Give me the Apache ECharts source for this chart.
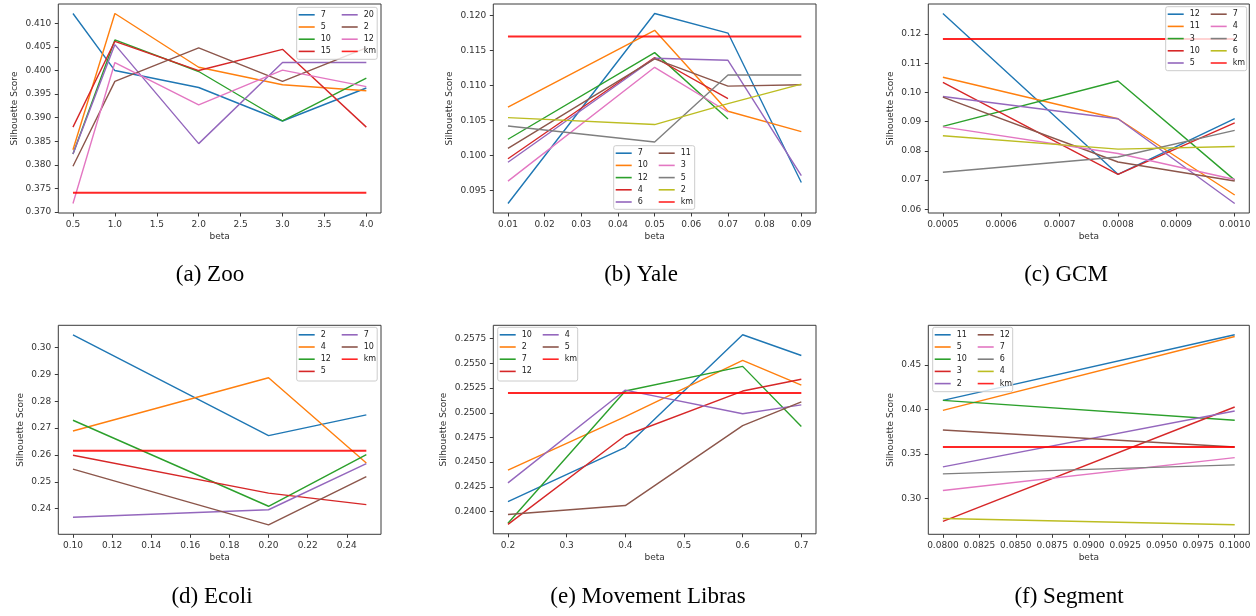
<!DOCTYPE html>
<html>
<head>
<meta charset="utf-8">
<script src="https://cdn.jsdelivr.net/npm/echarts@6/dist/echarts.min.js"></script>
<style>html,body{margin:0;padding:0;background:#fff;}#c{width:1256px;height:616px;}</style>
</head>
<body>
<div id="c"></div>
<script>
// ---------- DATA ----------
// (a) Zoo
const zooBeta = [0.5, 1.0, 2.0, 3.0, 4.0];
const zooNames = ['7', '5', '10', '15', '20', '2', '12'];
const zooScores = [
  [0.4121, 0.4000, 0.3964, 0.3893, 0.3963],
  [0.3832, 0.4121, 0.4007, 0.3970, 0.3957],
  [0.3823, 0.4065, 0.3998, 0.3893, 0.3984],
  [0.3880, 0.4062, 0.4000, 0.4045, 0.3880],
  [0.3823, 0.4055, 0.3845, 0.4017, 0.4017],
  [0.3797, 0.3977, 0.4048, 0.3977, 0.4048],
  [0.3718, 0.4017, 0.3927, 0.4001, 0.3966]
];
const zooKm = 0.3741;
const zooXTicks = [0.5, 1.0, 1.5, 2.0, 2.5, 3.0, 3.5, 4.0];
const zooYTicks = [0.370, 0.375, 0.380, 0.385, 0.390, 0.395, 0.400, 0.405, 0.410];

// (b) Yale
const yaleBeta = [0.01, 0.05, 0.07, 0.09];
const yaleNames = ['7', '10', '12', '4', '6', '11', '3', '5', '2'];
const yaleScores = [
  [0.0931, 0.1203, 0.1175, 0.0961],
  [0.1069, 0.1179, 0.1063, 0.1034],
  [0.1023, 0.1147, 0.1052],
  [0.0995, 0.1140, 0.1081],
  [0.0990, 0.1139, 0.1136, 0.0971],
  [0.1010, 0.1138, 0.1099, 0.1101],
  [0.0963, 0.1126, 0.1062],
  [0.1042, 0.1019, 0.1115, 0.1115],
  [0.1054, 0.1044, 0.1074, 0.1102]
];
const yaleKm = 0.1170;
const yaleXTicks = [0.01, 0.02, 0.03, 0.04, 0.05, 0.06, 0.07, 0.08, 0.09];
const yaleYTicks = [0.095, 0.100, 0.105, 0.110, 0.115, 0.120];

// (c) GCM
const gcmBeta = [0.0005, 0.0008, 0.0010];
const gcmNames = ['12', '11', '3', '10', '5', '7', '4', '2', '6'];
const gcmScores = [
  [0.1270, 0.0720, 0.0910],
  [0.1052, 0.0910, 0.0649],
  [0.0884, 0.1039, 0.0700],
  [0.1034, 0.0720, 0.0896],
  [0.0986, 0.0910, 0.0620],
  [0.0984, 0.0762, 0.0697],
  [0.0882, 0.0791, 0.0702],
  [0.0727, 0.0779, 0.0870],
  [0.0852, 0.0806, 0.0815]
];
const gcmKm = 0.1183;
const gcmXTicks = [0.0005, 0.0006, 0.0007, 0.0008, 0.0009, 0.0010];
const gcmYTicks = [0.06, 0.07, 0.08, 0.09, 0.10, 0.11, 0.12];

// (d) Ecoli
const ecoliBeta = [0.10, 0.20, 0.25];
const ecoliNames = ['2', '4', '12', '5', '7', '10'];
const ecoliScores = [
  [0.3047, 0.2672, 0.2749],
  [0.2689, 0.2887, 0.2570],
  [0.2729, 0.2409, 0.2601],
  [0.2599, 0.2458, 0.2415],
  [0.2368, 0.2396, 0.2568],
  [0.2547, 0.2340, 0.2519]
];
const ecoliKm = 0.2616;
const ecoliXTicks = [0.10, 0.12, 0.14, 0.16, 0.18, 0.20, 0.22, 0.24];
const ecoliYTicks = [0.24, 0.25, 0.26, 0.27, 0.28, 0.29, 0.30];

// (e) Movement Libras
const librasBeta = [0.2, 0.4, 0.6, 0.7];
const librasNames = ['10', '2', '7', '12', '4', '5'];
const librasScores = [
  [0.2410, 0.2465, 0.2579, 0.2558],
  [0.2442, 0.2496, 0.2553, 0.2528],
  [0.2388, 0.2522, 0.2547, 0.2486],
  [0.2387, 0.2477, 0.2522, 0.2534],
  [0.2429, 0.2523, 0.2499, 0.2508],
  [0.2397, 0.2406, 0.2487, 0.2511]
];
const librasKm = 0.2520;
const librasXTicks = [0.2, 0.3, 0.4, 0.5, 0.6, 0.7];
const librasYTicks = [0.2400, 0.2425, 0.2450, 0.2475, 0.2500, 0.2525, 0.2550, 0.2575];

// (f) Segment
const segBeta = [0.08, 0.10];
const segNames = ['11', '5', '10', '3', '2', '12', '7', '6', '4'];
const segScores = [
  [0.4101, 0.4836],
  [0.3989, 0.4817],
  [0.4101, 0.3877],
  [0.2743, 0.4026],
  [0.3355, 0.3981],
  [0.3769, 0.3578],
  [0.3090, 0.3459],
  [0.3276, 0.3377],
  [0.2776, 0.2705]
];
const segKm = 0.3578;
const segXTicks = [0.0800, 0.0825, 0.0850, 0.0875, 0.0900, 0.0925, 0.0950, 0.0975, 0.1000];
const segYTicks = [0.30, 0.35, 0.40, 0.45];

const captions = ['(a) Zoo', '(b) Yale', '(c) GCM', '(d) Ecoli', '(e) Movement Libras', '(f) Segment'];

// ---------- LAYOUT / STYLE ----------
const TAB = ['#1f77b4', '#ff7f0e', '#2ca02c', '#d62728', '#9467bd', '#8c564b', '#e377c2', '#7f7f7f', '#bcbd22'];
const KM_COLOR = '#ff0000';
const FONT = 'DejaVu Sans';

const panels = [
  { beta: zooBeta, names: zooNames, scores: zooScores, km: zooKm, xt: zooXTicks, yt: zooYTicks, xd: 1, yd: 3,
    grid: { left: 58.3, top: 4, width: 322.7, height: 209 }, yGap: 39, box: { x: 296.7, y: 7.3, w: 80.5, h: 52 },
    cap: { x: 210, y: 275 } },
  { beta: yaleBeta, names: yaleNames, scores: yaleScores, km: yaleKm, xt: yaleXTicks, yt: yaleYTicks, xd: 2, yd: 3,
    grid: { left: 493.3, top: 4, width: 322.7, height: 209 }, yGap: 39, box: { x: 613.7, y: 145.7, w: 81, h: 63.6 },
    cap: { x: 641, y: 275 } },
  { beta: gcmBeta, names: gcmNames, scores: gcmScores, km: gcmKm, xt: gcmXTicks, yt: gcmYTicks, xd: 4, yd: 2,
    grid: { left: 928.3, top: 4, width: 321, height: 209 }, yGap: 33, box: { x: 1165.7, y: 6.7, w: 81, h: 64 },
    cap: { x: 1066, y: 275 } },
  { beta: ecoliBeta, names: ecoliNames, scores: ecoliScores, km: ecoliKm, xt: ecoliXTicks, yt: ecoliYTicks, xd: 2, yd: 2,
    grid: { left: 58.3, top: 325.3, width: 322.7, height: 209 }, yGap: 33, box: { x: 296.7, y: 327.3, w: 80.5, h: 53.7 },
    cap: { x: 212, y: 597 } },
  { beta: librasBeta, names: librasNames, scores: librasScores, km: librasKm, xt: librasXTicks, yt: librasYTicks, xd: 1, yd: 4,
    grid: { left: 493.3, top: 325.3, width: 322.7, height: 208.5 }, yGap: 45, box: { x: 497.7, y: 327.3, w: 80, h: 53.7 },
    cap: { x: 648, y: 597 } },
  { beta: segBeta, names: segNames, scores: segScores, km: segKm, xt: segXTicks, yt: segYTicks, xd: 4, yd: 2,
    grid: { left: 928.3, top: 325.3, width: 321, height: 209 }, yGap: 33, box: { x: 932.7, y: 327.3, w: 80, h: 64.4 },
    cap: { x: 1069, y: 597 } }
];

function lim(vals) {
  const mn = Math.min(...vals), mx = Math.max(...vals), m = (mx - mn) * 0.05;
  return [mn - m, mx + m];
}

const grids = [], xAxes = [], yAxes = [], series = [], legends = [], graphics = [];

panels.forEach((p, i) => {
  const key = 'p' + i + ':';
  grids.push(Object.assign({ show: true, borderColor: '#3a3a3a', borderWidth: 1, backgroundColor: 'transparent', containLabel: false, outerBoundsMode: 'none' }, p.grid));
  const xl = lim(p.beta);
  const allY = [].concat(...p.scores, [p.km]);
  const yl = lim(allY);
  xAxes.push({
    gridIndex: i, type: 'value', min: xl[0], max: xl[1],
    name: 'beta', nameLocation: 'middle', nameGap: 19,
    nameTextStyle: { fontFamily: FONT, fontSize: 9, color: '#333' },
    axisLine: { show: false }, splitLine: { show: false },
    axisTick: { show: true, length: 3.5, customValues: p.xt, lineStyle: { color: '#3a3a3a', width: 1 } },
    axisLabel: { customValues: p.xt, margin: 7, fontFamily: FONT, fontSize: 9, color: '#333',
      formatter: (v) => Number(v).toFixed(p.xd) }
  });
  yAxes.push({
    gridIndex: i, type: 'value', min: yl[0], max: yl[1],
    name: 'Silhouette Score', nameLocation: 'middle', nameGap: p.yGap,
    nameTextStyle: { fontFamily: FONT, fontSize: 9, color: '#333' },
    axisLine: { show: false }, splitLine: { show: false },
    axisTick: { show: true, length: 3.5, customValues: p.yt, lineStyle: { color: '#3a3a3a', width: 1 } },
    axisLabel: { customValues: p.yt, margin: 7, fontFamily: FONT, fontSize: 9, color: '#333',
      formatter: (v) => Number(v).toFixed(p.yd) }
  });
  const legendNames = [];
  p.names.forEach((n, j) => {
    const nm = key + n;
    legendNames.push(nm);
    series.push({
      name: nm, type: 'line', xAxisIndex: i, yAxisIndex: i, symbol: 'none', showSymbol: false,
      data: p.scores[j].map((v, k) => [p.beta[k], v]),
      lineStyle: { color: TAB[j], width: 1.4 }, itemStyle: { color: TAB[j] },
      silent: true, animation: false
    });
  });
  const kmName = key + 'km';
  legendNames.push(kmName);
  series.push({
    name: kmName, type: 'line', xAxisIndex: i, yAxisIndex: i, symbol: 'none', showSymbol: false,
    data: [[p.beta[0], p.km], [p.beta[p.beta.length - 1], p.km]],
    lineStyle: { color: KM_COLOR, width: 2, opacity: 0.85 }, itemStyle: { color: KM_COLOR, opacity: 0.85 },
    silent: true, animation: false
  });
  const half = Math.ceil(legendNames.length / 2);
  const cols = [legendNames.slice(0, half), legendNames.slice(half)];
  const offs = [2, 45];
  cols.forEach((c, ci) => {
    legends.push({
      data: c.map((nm) => ({ name: nm, icon: 'rect' })),
      orient: 'vertical', left: p.box.x + offs[ci], top: p.box.y + 2.5,
      padding: 0, itemGap: 2.2, itemWidth: 16, itemHeight: 1.6, z: 20,
      selectedMode: false,
      itemStyle: { borderWidth: 0 },
      lineStyle: { width: 0 },
      textStyle: { fontFamily: FONT, fontSize: 8, color: '#222', lineHeight: 10, padding: [0, 0, 0, 1] },
      formatter: (name) => name.split(':')[1]
    });
  });
  graphics.push({
    type: 'rect', z: 15, silent: true,
    shape: { x: p.box.x, y: p.box.y, width: p.box.w, height: p.box.h, r: 2 },
    style: { fill: 'rgba(255,255,255,0.8)', stroke: '#cccccc', lineWidth: 1 }
  });
  graphics.push({
    type: 'text', z: 15, silent: true, x: p.cap.x, y: p.cap.y,
    style: { text: captions[i], fontFamily: 'Liberation Serif', fontSize: 23, fill: '#000',
      align: 'center', verticalAlign: 'middle', textAlign: 'center', textVerticalAlign: 'middle' }
  });
});

const chart = echarts.init(document.getElementById('c'), null, { renderer: 'canvas' });
chart.setOption({
  animation: false,
  backgroundColor: '#ffffff',
  grid: grids,
  xAxis: xAxes,
  yAxis: yAxes,
  legend: legends,
  graphic: graphics,
  series: series
});
</script>
</body>
</html>
